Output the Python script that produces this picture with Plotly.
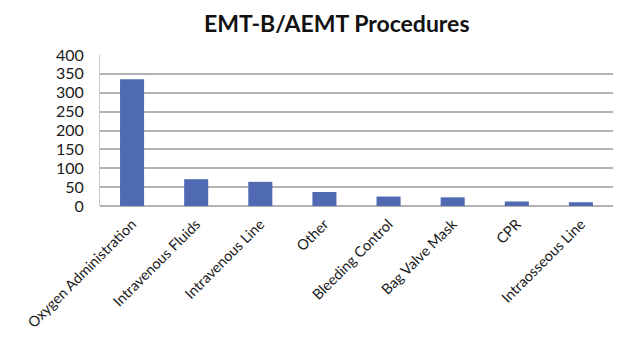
import plotly.graph_objects as go

procedures = [
    "Oxygen Administration",
    "Intravenous Fluids",
    "Intravenous Line",
    "Other",
    "Bleeding Control",
    "Bag Valve Mask",
    "CPR",
    "Intraosseous Line",
]
counts = [336, 71, 64, 37, 25, 23, 12, 10]
y_ticks = [0, 50, 100, 150, 200, 250, 300, 350, 400]

fig = go.Figure(
    go.Bar(
        x=procedures,
        y=counts,
        marker=dict(color="#4f6ab2", line=dict(width=0)),
    )
)

fig.update_layout(
    width=618,
    height=339,
    margin=dict(l=100, r=5, t=55, b=133),
    paper_bgcolor="white",
    plot_bgcolor="white",
    bargap=0.625,
    showlegend=False,
    font=dict(family="Lato, Open Sans, sans-serif", color="#1a1a1a"),
    title=dict(
        text="<b>EMT-B/AEMT Procedures</b>",
        x=0.545,
        xanchor="center",
        y=0.93,
        yanchor="middle",
        yref="container",
        font=dict(size=23, color="#111111"),
    ),
)

fig.update_xaxes(
    tickangle=-45,
    tickfont=dict(size=14.5),
    showgrid=False,
    showline=False,
    ticks="",
    ticklabelstandoff=6,
    automargin=False,
)

fig.update_yaxes(
    range=[0, 400],
    tickvals=y_ticks,
    tickfont=dict(size=16),
    showgrid=True,
    gridcolor="#b3b3b3",
    gridwidth=1.5,
    zeroline=True,
    zerolinecolor="#b3b3b3",
    zerolinewidth=1.5,
    showline=True,
    linecolor="#c8c8c8",
    linewidth=1,
    ticks="",
    ticklabelstandoff=12,
    automargin=False,
)

fig.write_html("out.html")
